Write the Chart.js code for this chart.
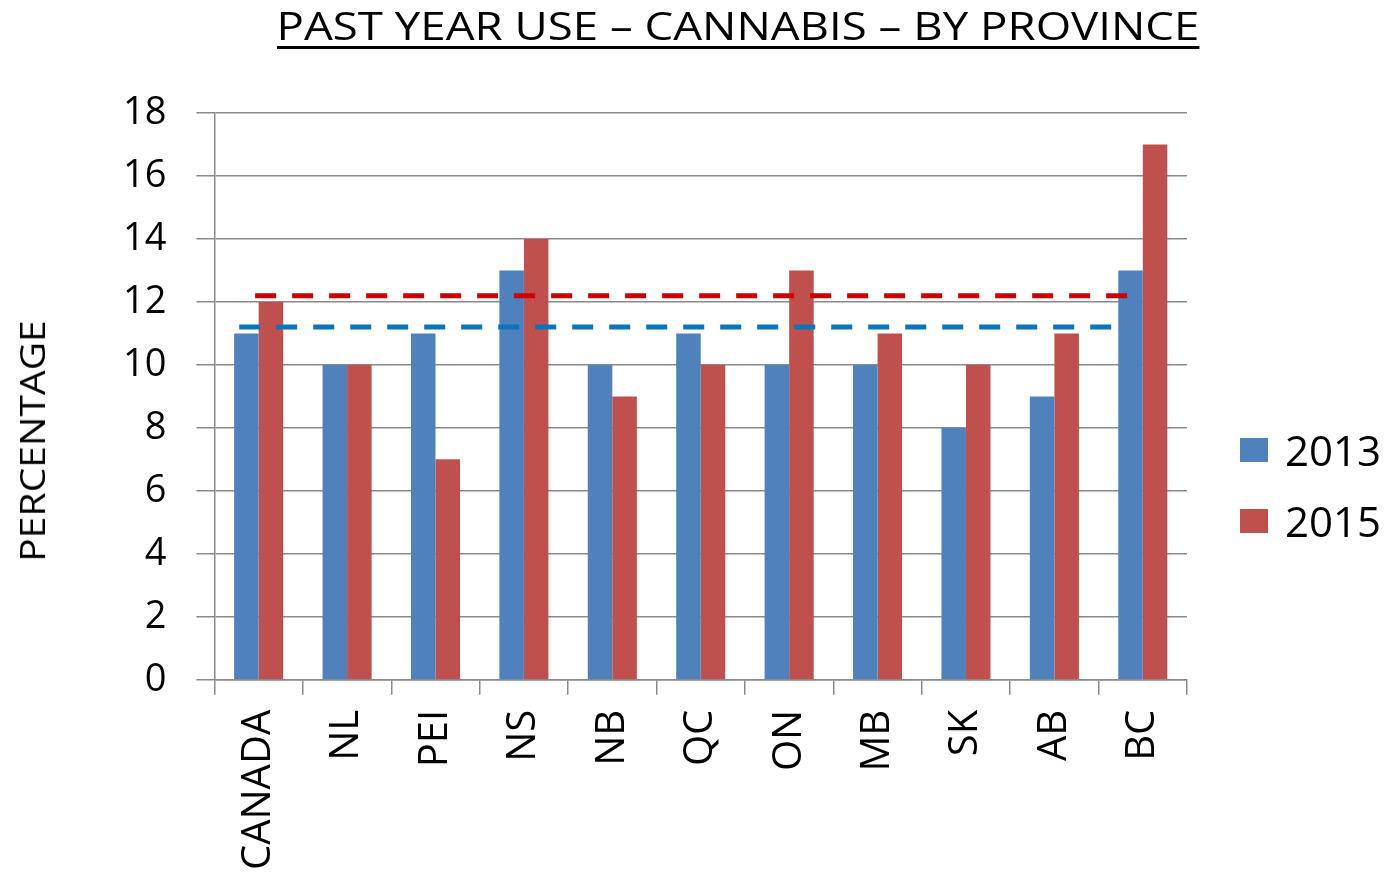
<!DOCTYPE html>
<html><head><meta charset="utf-8">
<script src="https://cdn.jsdelivr.net/npm/chart.js@4/dist/chart.umd.min.js"></script>
<style>
html,body{margin:0;padding:0;background:#fff;}
#wrap{position:relative;width:1393px;height:884px;overflow:hidden;font-family:'Open Sans',sans-serif;color:#000;}
#c{position:absolute;left:0;top:0;}
#title{position:absolute;left:738px;top:6px;transform:translateX(-50%) scaleX(1.2);white-space:nowrap;font-size:38px;line-height:38px;text-decoration:underline;text-decoration-thickness:3px;text-underline-offset:6px;}
#ylab{position:absolute;left:32px;top:441px;transform:translate(-50%,-50%) rotate(-90deg) scaleX(1.15);white-space:nowrap;font-size:34px;line-height:34px;}
#legend{position:absolute;left:1240px;top:414px;}
.li{display:flex;align-items:center;height:71px;}
.sw{width:28px;height:24px;margin-right:17px;}
.lt{font-size:42px;line-height:42px;}
</style></head><body>
<div id="wrap">
<canvas id="c" width="1393" height="884"></canvas>
<div id="title">PAST YEAR USE – CANNABIS – BY PROVINCE</div>
<div id="ylab">PERCENTAGE</div>
<div id="legend"></div>
</div>
<script>
const categories = ['CANADA','NL','PEI','NS','NB','QC','ON','MB','SK','AB','BC'];
const seriesNames = ['2013','2015'];
const values2013 = [11,10,11,13,10,11,10,10,8,9,13];
const values2015 = [12,10,7,14,9,10,13,11,10,11,17];
const avgLevel2013 = 11.2;
const avgLevel2015 = 12.2;
const avgSpan2013 = [-0.22, 9.74];
const avgSpan2015 = [-0.04, 9.92];
const yTicks = [0,2,4,6,8,10,12,14,16,18];

const barColors = ['#4F81BD','#C0504D'];
const avgColors = ['#0A74BC','#CC0000'];
const gridColor = '#8a8a8a';
const fontFamily = "'Open Sans', sans-serif";

const avgLines = [
  {level: avgLevel2013, span: avgSpan2013, color: avgColors[0]},
  {level: avgLevel2015, span: avgSpan2015, color: avgColors[1]}
];

const avgLinesPlugin = {
  id: 'avgLines',
  afterDatasetsDraw(chart) {
    const {ctx} = chart;
    const xs = chart.scales.x, ys = chart.scales.y;
    avgLines.forEach(l => {
      const py = ys.getPixelForValue(l.level);
      ctx.save();
      ctx.strokeStyle = l.color;
      ctx.lineWidth = 5;
      ctx.setLineDash([21,16]);
      ctx.beginPath();
      ctx.moveTo(xs.getPixelForValue(l.span[0]), py);
      ctx.lineTo(xs.getPixelForValue(l.span[1]), py);
      ctx.stroke();
      ctx.restore();
    });
  }
};

const chart = new Chart(document.getElementById('c'), {
  type: 'bar',
  data: {
    labels: categories,
    datasets: [
      {label: seriesNames[0], data: values2013, backgroundColor: barColors[0]},
      {label: seriesNames[1], data: values2015, backgroundColor: barColors[1]}
    ]
  },
  plugins: [avgLinesPlugin],
  options: {
    responsive:false, animation:false, devicePixelRatio:1,
    categoryPercentage:0.555, barPercentage:1.0,
    layout:{padding:{left:93, right:206, top:113, bottom:-1}},
    plugins:{legend:{display:false}, title:{display:false}, tooltip:{enabled:false}},
    scales:{
      x:{type:'category', offset:true,
         grid:{offset:true, drawOnChartArea:false, drawTicks:true, tickLength:15, color:gridColor, lineWidth:1.5},
         border:{color:gridColor, width:1.5},
         ticks:{maxRotation:90, minRotation:90, autoSkip:false, padding:15, color:'#000', font:{family:fontFamily, size:40}}},
      y:{min:0, max:18,
         afterBuildTicks: s => { s.ticks = yTicks.map(v=>({value:v})); },
         grid:{color:gridColor, lineWidth:1.5, tickLength:18},
         border:{color:gridColor, width:1.5},
         ticks:{padding:30, color:'#000', font:{family:fontFamily, size:38}}}
    }
  }
});

const lg = document.getElementById('legend');
chart.data.datasets.forEach(d=>{
  const row = document.createElement('div'); row.className='li';
  const sw = document.createElement('div'); sw.className='sw'; sw.style.background=d.backgroundColor;
  const t = document.createElement('span'); t.className='lt'; t.textContent=d.label;
  row.appendChild(sw); row.appendChild(t); lg.appendChild(row);
});
</script>
</body></html>
